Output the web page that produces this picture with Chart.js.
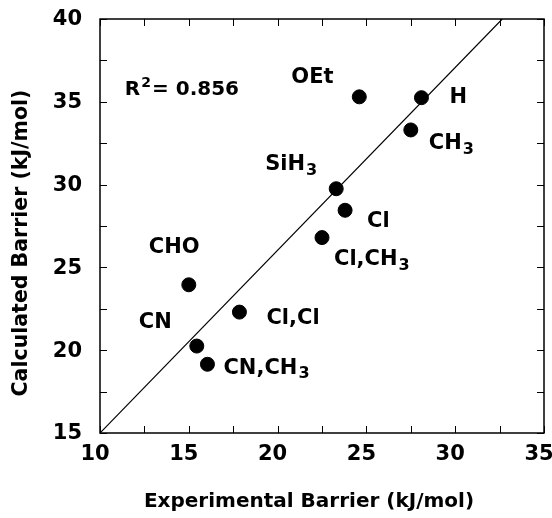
<!DOCTYPE html>
<html>
<head>
<meta charset="utf-8">
<script src="https://cdn.jsdelivr.net/npm/chart.js@4"></script>
<style>
	html, body { margin: 0; padding: 0; background: #fff; }
	#wrap { width: 552px; height: 518px; }
</style>
</head>
<body>
<div id="wrap"><canvas id="chart" width="552" height="518"></canvas></div>
<script>
// ----------------------------------------------------------------------
//	barrier scatter
// ----------------------------------------------------------------------
const substituents = ["OEt", "H", "CH3", "SiH3", "Cl", "Cl,CH3", "CHO", "Cl,Cl", "CN", "CN,CH3"]
const experimental = [24.6, 28.1, 27.5, 23.3, 23.8, 22.5, 15.0, 17.85, 15.45, 16.05]
const calculated   = [35.3, 35.25, 33.3, 29.75, 28.45, 26.8, 23.95, 22.3, 20.25, 19.15]

const fit_x = [10, 32.65]
const fit_y = [15, 40]

const x_ticks = [10, 15, 20, 25, 30, 35]
const y_ticks = [15, 20, 25, 30, 35, 40]
const r_squared = "0.856"

const x_title = "Experimental Barrier (kJ/mol)"
const y_title = "Calculated Barrier (kJ/mol)"

const FONT = "'DejaVu Sans', 'Liberation Sans', Arial, sans-serif"

// ----------------------------------------------------------------------
// label pieces: [text, mode]  mode: n normal, b subscript, p superscript
function pieces_of (name)
{
	const out = []
	const re = /(\d+)|([^\d]+)/g
	let m
	while ((m = re.exec(name)) !== null)
		{
		if (m[1]) out.push([m[1], "b"])
		else out.push([m[2], "n"])
		}
	return out
}

function draw_rich (ctx, pieces, x, y, size)
{
	size = size || 21
	let px = x
	for (const [txt, mode] of pieces)
		{
		if (mode == "n")
			{
			ctx.font = "bold " + size + "px " + FONT
			ctx.fillText(txt, px, y)
			}
		else if (mode == "b")
			{
			ctx.font = "bold " + (size - 5) + "px " + FONT
			ctx.fillText(txt, px + 1, y + 6)
			}
		else
			{
			ctx.font = "bold " + (size - 6) + "px " + FONT
			ctx.fillText(txt, px + 1, y - 7)
			}
		px += ctx.measureText(txt).width + (mode == "n" ? 0 : 2)
		}
}

// pixel offsets of each label from its point (left edge, middle)
const label_offsets = {
	"OEt": [-68, -19],
	"H": [28, 0],
	"CH3": [18, 14],
	"SiH3": [-71, -24],
	"Cl": [22, 11],
	"Cl,CH3": [12, 22],
	"CHO": [-40, -37],
	"Cl,Cl": [27, 6],
	"CN": [-58, -24],
	"CN,CH3": [16, 4]
}

// ----------------------------------------------------------------------
const frame_plugin = {
	id: "frame",
	afterDatasetsDraw (chart)
	{
		const ctx = chart.ctx
		const a = chart.chartArea
		const sx = chart.scales.x
		const sy = chart.scales.y
		ctx.save()
		ctx.strokeStyle = "#000"
		ctx.lineWidth = 1.5
		ctx.strokeRect(a.left, a.top, a.right - a.left, a.bottom - a.top)

		// inward ticks on all four sides, every 2.5
		ctx.lineWidth = 1
		ctx.beginPath()
		for (let v = 10; v <= 35; v += 2.5)
			{
			const px = Math.round(sx.getPixelForValue(v)) + 0.5
			ctx.moveTo(px, a.bottom); ctx.lineTo(px, a.bottom - 7)
			ctx.moveTo(px, a.top); ctx.lineTo(px, a.top + 7)
			}
		for (let v = 15; v <= 40; v += 2.5)
			{
			const py = Math.round(sy.getPixelForValue(v)) + 0.5
			ctx.moveTo(a.left, py); ctx.lineTo(a.left + 7, py)
			ctx.moveTo(a.right, py); ctx.lineTo(a.right - 7, py)
			}
		ctx.stroke()

		// point labels
		ctx.fillStyle = "#000"
		ctx.textBaseline = "middle"
		ctx.textAlign = "left"
		for (let it = 0; it < substituents.length; it++)
			{
			const name = substituents[it]
			const off = label_offsets[name]
			const px = sx.getPixelForValue(experimental[it])
			const py = sy.getPixelForValue(calculated[it])
			draw_rich(ctx, pieces_of(name), px + off[0], py + off[1])
			}

		// R^2
		const rx = sx.getPixelForValue(11.4)
		const ry = sy.getPixelForValue(35.7)
		draw_rich(ctx, [["R", "n"], ["2", "p"], ["= " + r_squared, "n"]], rx, ry, 20)

		// axis titles
		ctx.font = "bold 20px " + FONT
		ctx.textAlign = "center"
		ctx.fillText(x_title, 309, 502)
		ctx.translate(22, 243)
		ctx.rotate(-Math.PI / 2)
		ctx.font = "bold 20.5px " + FONT
		ctx.fillText(y_title, 0, 0)
		ctx.restore()
	}
}

// ----------------------------------------------------------------------
function prog01 ()
{
	const points = experimental.map((x, i) => ({x: x, y: calculated[i]}))
	const line = fit_x.map((x, i) => ({x: x, y: fit_y[i]}))

	const config = {
		type: "scatter",
		data: {
			datasets: [
				{
				type: "line",
				data: line,
				borderColor: "#000",
				borderWidth: 1.2,
				pointRadius: 0,
				fill: false
				},
				{
				data: points,
				backgroundColor: "#000",
				borderColor: "#000",
				pointRadius: 7,
				pointHoverRadius: 7
				}
			]
		},
		options: {
			responsive: false,
			animation: false,
			layout: { padding: { top: 19, right: 8, left: 4, bottom: 2 } },
			plugins: { legend: { display: false }, tooltip: { enabled: false } },
			scales: {
				x: {
					type: "linear",
					min: 10, max: 35,
					afterBuildTicks: (s) => { s.ticks = x_ticks.map(v => ({value: v})) },
					grid: { display: false },
					border: { display: false },
					ticks: {
						color: "#000",
						padding: 1,
						labelOffset: -5,
						maxRotation: 0,
						font: { family: FONT, size: 21, weight: "bold" }
					},
					afterFit: (s) => { s.height = 83; s.paddingLeft = 0; s.paddingRight = 0 }
				},
				y: {
					type: "linear",
					min: 15, max: 40,
					afterBuildTicks: (s) => { s.ticks = y_ticks.map(v => ({value: v})) },
					grid: { display: false },
					border: { display: false },
					ticks: {
						color: "#000",
						padding: 10,
						labelOffset: 1,
						font: { family: FONT, size: 21, weight: "bold" }
					},
					afterFit: (s) => { s.width = 96; s.paddingTop = 0; s.paddingBottom = 0 }
				}
			}
		},
		plugins: [frame_plugin]
	}

	new Chart(document.getElementById("chart"), config)
}

prog01()
</script>
</body>
</html>
